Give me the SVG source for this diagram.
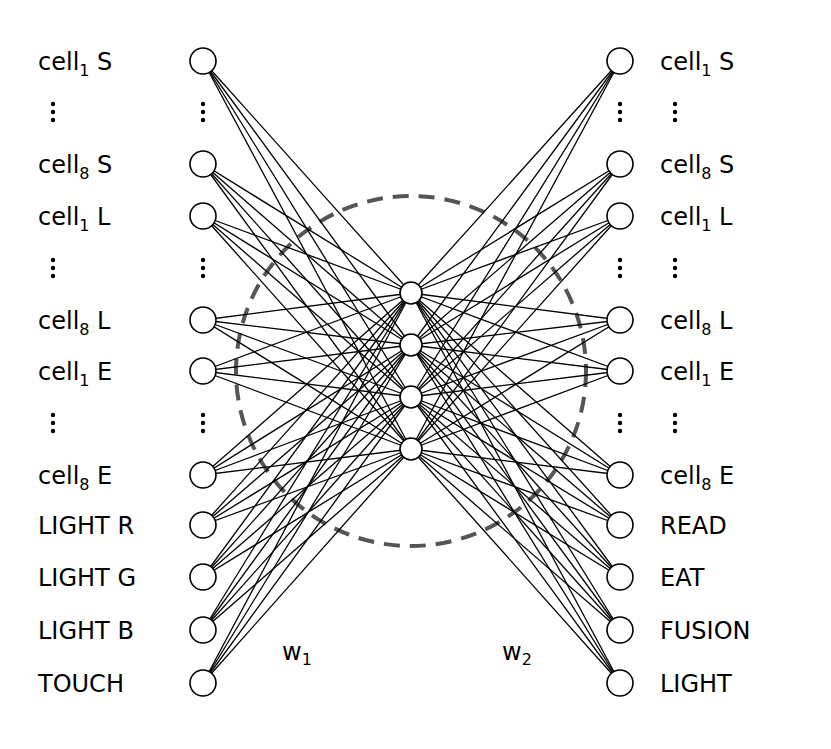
<svg xmlns="http://www.w3.org/2000/svg" width="831" height="749" viewBox="0 0 831 749">
<style>
.n{fill:#fff;stroke:#000;stroke-width:1.6}
text{font-family:"DejaVu Sans","Liberation Sans",sans-serif;font-size:24px;fill:#000}
.s{font-size:16px}
line{stroke:#000;stroke-width:1.3}
.d{fill:#000}
</style>
<rect width="831" height="749" fill="#fff"/>
<defs>
<g id="dots"><circle cx="0" cy="-8" r="2.2" class="d"/><circle cx="0" cy="0" r="2.2" class="d"/><circle cx="0" cy="8" r="2.2" class="d"/></g>
</defs>
<g id="connectors">
<ellipse cx="411" cy="371" rx="175" ry="175" fill="none" stroke="#555" stroke-width="4" stroke-dasharray="16,10"/>
<line x1="203" y1="61" x2="411" y2="293"/><line x1="203" y1="61" x2="411" y2="345"/><line x1="203" y1="61" x2="411" y2="397"/><line x1="203" y1="61" x2="411" y2="449"/>
<line x1="203" y1="164" x2="411" y2="293"/><line x1="203" y1="164" x2="411" y2="345"/><line x1="203" y1="164" x2="411" y2="397"/><line x1="203" y1="164" x2="411" y2="449"/>
<line x1="203" y1="216" x2="411" y2="293"/><line x1="203" y1="216" x2="411" y2="345"/><line x1="203" y1="216" x2="411" y2="397"/><line x1="203" y1="216" x2="411" y2="449"/>
<line x1="203" y1="320" x2="411" y2="293"/><line x1="203" y1="320" x2="411" y2="345"/><line x1="203" y1="320" x2="411" y2="397"/><line x1="203" y1="320" x2="411" y2="449"/>
<line x1="203" y1="371" x2="411" y2="293"/><line x1="203" y1="371" x2="411" y2="345"/><line x1="203" y1="371" x2="411" y2="397"/><line x1="203" y1="371" x2="411" y2="449"/>
<line x1="203" y1="475" x2="411" y2="293"/><line x1="203" y1="475" x2="411" y2="345"/><line x1="203" y1="475" x2="411" y2="397"/><line x1="203" y1="475" x2="411" y2="449"/>
<line x1="203" y1="525" x2="411" y2="293"/><line x1="203" y1="525" x2="411" y2="345"/><line x1="203" y1="525" x2="411" y2="397"/><line x1="203" y1="525" x2="411" y2="449"/>
<line x1="203" y1="577" x2="411" y2="293"/><line x1="203" y1="577" x2="411" y2="345"/><line x1="203" y1="577" x2="411" y2="397"/><line x1="203" y1="577" x2="411" y2="449"/>
<line x1="203" y1="630" x2="411" y2="293"/><line x1="203" y1="630" x2="411" y2="345"/><line x1="203" y1="630" x2="411" y2="397"/><line x1="203" y1="630" x2="411" y2="449"/>
<line x1="203" y1="683" x2="411" y2="293"/><line x1="203" y1="683" x2="411" y2="345"/><line x1="203" y1="683" x2="411" y2="397"/><line x1="203" y1="683" x2="411" y2="449"/>
<line x1="620" y1="61" x2="411" y2="293"/><line x1="620" y1="61" x2="411" y2="345"/><line x1="620" y1="61" x2="411" y2="397"/><line x1="620" y1="61" x2="411" y2="449"/>
<line x1="620" y1="164" x2="411" y2="293"/><line x1="620" y1="164" x2="411" y2="345"/><line x1="620" y1="164" x2="411" y2="397"/><line x1="620" y1="164" x2="411" y2="449"/>
<line x1="620" y1="216" x2="411" y2="293"/><line x1="620" y1="216" x2="411" y2="345"/><line x1="620" y1="216" x2="411" y2="397"/><line x1="620" y1="216" x2="411" y2="449"/>
<line x1="620" y1="320" x2="411" y2="293"/><line x1="620" y1="320" x2="411" y2="345"/><line x1="620" y1="320" x2="411" y2="397"/><line x1="620" y1="320" x2="411" y2="449"/>
<line x1="620" y1="371" x2="411" y2="293"/><line x1="620" y1="371" x2="411" y2="345"/><line x1="620" y1="371" x2="411" y2="397"/><line x1="620" y1="371" x2="411" y2="449"/>
<line x1="620" y1="475" x2="411" y2="293"/><line x1="620" y1="475" x2="411" y2="345"/><line x1="620" y1="475" x2="411" y2="397"/><line x1="620" y1="475" x2="411" y2="449"/>
<line x1="620" y1="525" x2="411" y2="293"/><line x1="620" y1="525" x2="411" y2="345"/><line x1="620" y1="525" x2="411" y2="397"/><line x1="620" y1="525" x2="411" y2="449"/>
<line x1="620" y1="577" x2="411" y2="293"/><line x1="620" y1="577" x2="411" y2="345"/><line x1="620" y1="577" x2="411" y2="397"/><line x1="620" y1="577" x2="411" y2="449"/>
<line x1="620" y1="630" x2="411" y2="293"/><line x1="620" y1="630" x2="411" y2="345"/><line x1="620" y1="630" x2="411" y2="397"/><line x1="620" y1="630" x2="411" y2="449"/>
<line x1="620" y1="683" x2="411" y2="293"/><line x1="620" y1="683" x2="411" y2="345"/><line x1="620" y1="683" x2="411" y2="397"/><line x1="620" y1="683" x2="411" y2="449"/>
</g>
<g id="left-inputs">
<circle class="n" cx="203" cy="61" r="13"/><circle class="n" cx="203" cy="164" r="13"/><circle class="n" cx="203" cy="216" r="13"/><circle class="n" cx="203" cy="320" r="13"/><circle class="n" cx="203" cy="371" r="13"/><circle class="n" cx="203" cy="475" r="13"/><circle class="n" cx="203" cy="525" r="13"/><circle class="n" cx="203" cy="577" r="13"/><circle class="n" cx="203" cy="630" r="13"/><circle class="n" cx="203" cy="683" r="13"/>
<use href="#dots" x="203" y="112"/><use href="#dots" x="203" y="268"/><use href="#dots" x="203" y="423"/>
<use href="#dots" x="53" y="112"/><use href="#dots" x="53" y="268"/><use href="#dots" x="53" y="423"/>
</g>
<g id="hidden">
<circle class="n" cx="411" cy="293" r="11"/><circle class="n" cx="411" cy="345" r="11"/><circle class="n" cx="411" cy="397" r="11"/><circle class="n" cx="411" cy="449" r="11"/>
</g>
<g id="right-outputs">
<circle class="n" cx="620" cy="61" r="13"/><circle class="n" cx="620" cy="164" r="13"/><circle class="n" cx="620" cy="216" r="13"/><circle class="n" cx="620" cy="320" r="13"/><circle class="n" cx="620" cy="371" r="13"/><circle class="n" cx="620" cy="475" r="13"/><circle class="n" cx="620" cy="525" r="13"/><circle class="n" cx="620" cy="577" r="13"/><circle class="n" cx="620" cy="630" r="13"/><circle class="n" cx="620" cy="683" r="13"/>
<use href="#dots" x="620" y="112"/><use href="#dots" x="620" y="268"/><use href="#dots" x="620" y="423"/>
<use href="#dots" x="675" y="112"/><use href="#dots" x="675" y="268"/><use href="#dots" x="675" y="423"/>
</g>
<g id="labels-left">
<text x="38" y="70">cell<tspan class="s" dy="6">1</tspan><tspan dy="-6"> S</tspan></text>
<text x="38" y="173">cell<tspan class="s" dy="6">8</tspan><tspan dy="-6"> S</tspan></text>
<text x="38" y="225">cell<tspan class="s" dy="6">1</tspan><tspan dy="-6"> L</tspan></text>
<text x="38" y="329">cell<tspan class="s" dy="6">8</tspan><tspan dy="-6"> L</tspan></text>
<text x="38" y="380">cell<tspan class="s" dy="6">1</tspan><tspan dy="-6"> E</tspan></text>
<text x="38" y="484">cell<tspan class="s" dy="6">8</tspan><tspan dy="-6"> E</tspan></text>
<text x="38" y="534">LIGHT R</text>
<text x="38" y="586">LIGHT G</text>
<text x="38" y="639">LIGHT B</text>
<text x="38" y="692">TOUCH</text>
</g>
<g id="labels-right">
<text x="660" y="70">cell<tspan class="s" dy="6">1</tspan><tspan dy="-6"> S</tspan></text>
<text x="660" y="173">cell<tspan class="s" dy="6">8</tspan><tspan dy="-6"> S</tspan></text>
<text x="660" y="225">cell<tspan class="s" dy="6">1</tspan><tspan dy="-6"> L</tspan></text>
<text x="660" y="329">cell<tspan class="s" dy="6">8</tspan><tspan dy="-6"> L</tspan></text>
<text x="660" y="380">cell<tspan class="s" dy="6">1</tspan><tspan dy="-6"> E</tspan></text>
<text x="660" y="484">cell<tspan class="s" dy="6">8</tspan><tspan dy="-6"> E</tspan></text>
<text x="660" y="534">READ</text>
<text x="660" y="586">EAT</text>
<text x="660" y="639">FUSION</text>
<text x="660" y="692">LIGHT</text>
</g>
<g id="weights">
<text x="282" y="660">w<tspan class="s" dy="5">1</tspan></text>
<text x="502" y="660">w<tspan class="s" dy="5">2</tspan></text>
</g>
</svg>
